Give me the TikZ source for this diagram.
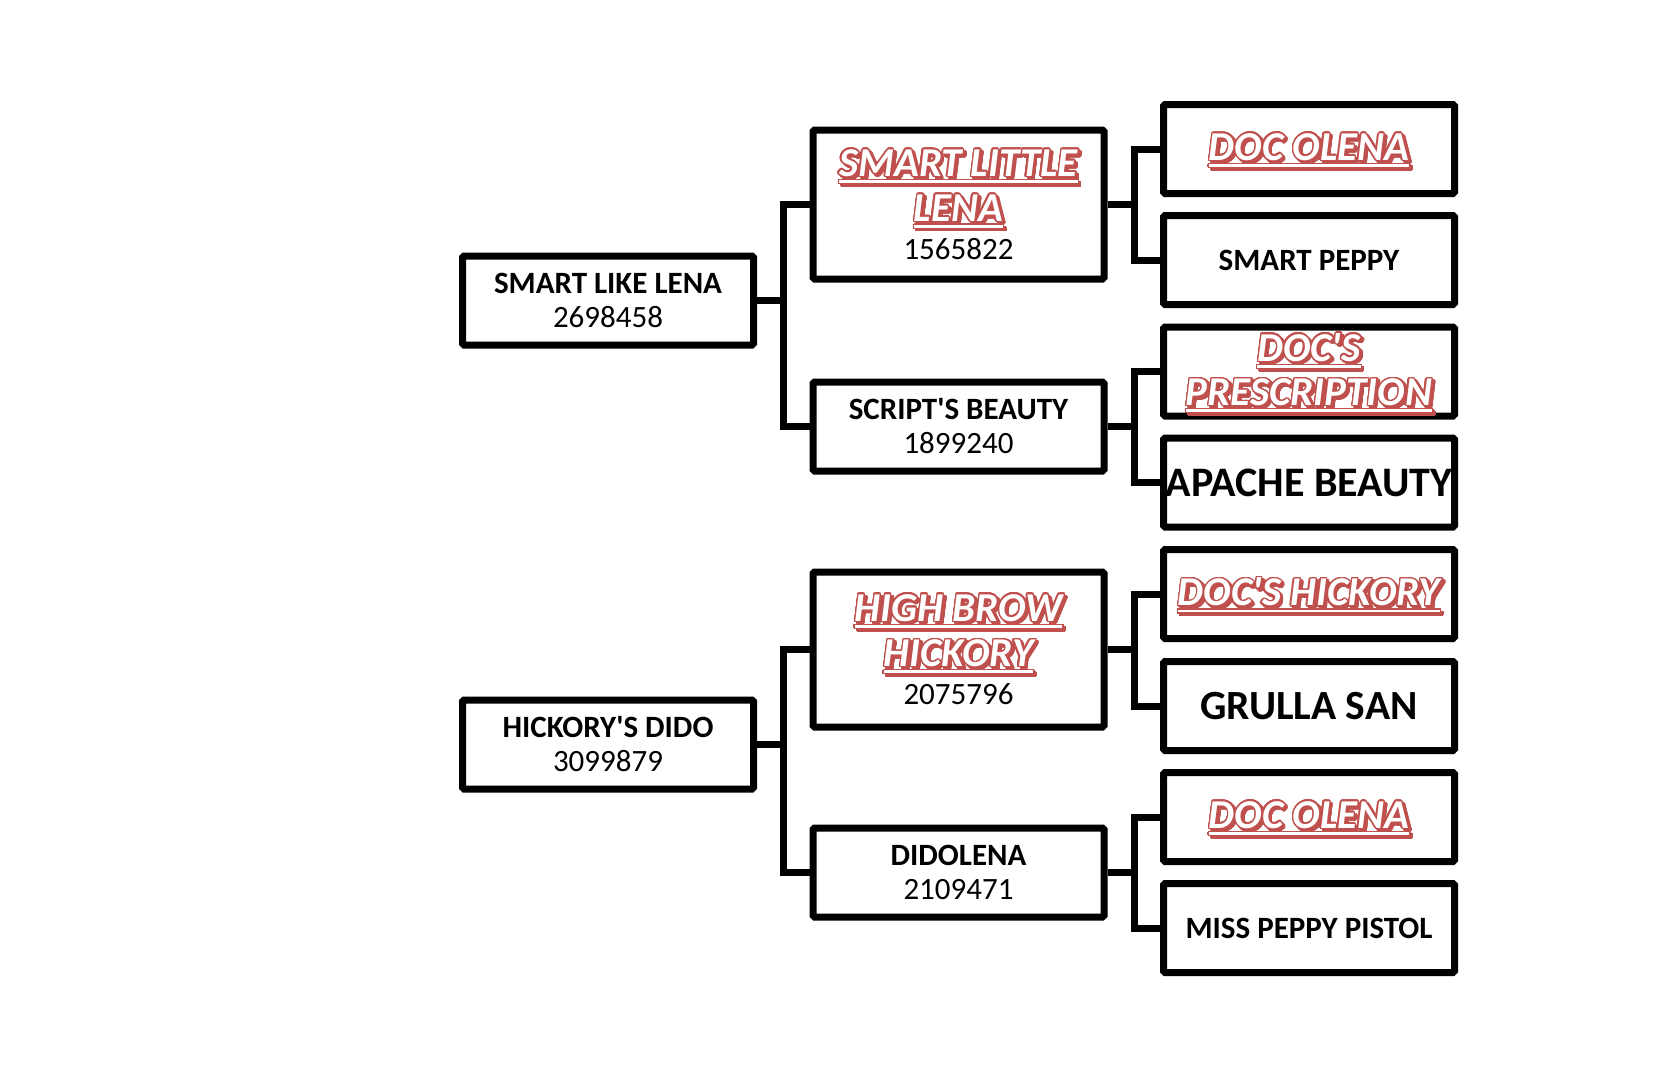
\documentclass[tikz,border=0pt]{standalone}
\usepackage{fontspec}
\setmainfont{Carlito}
\usepackage[copies]{contour}
\contourlength{1.4pt}
\contournumber{24}
\definecolor{redc}{RGB}{192,80,77}
\newcommand\ulbox[1]{\vtop{\hbox{#1}\kern3.5pt\hrule height 2.8pt}}
\newcommand\redline[1]{\leavevmode\rlap{\kern2.4pt\raisebox{-2.4pt}{\color{redc}\contour{redc}{\ulbox{#1}}}}{\color{white}\contour{redc}{\ulbox{#1}}}}
\newcommand\redf{\fontsize{41}{43}\selectfont\bfseries\itshape}
\newcommand\lowr[1]{\raisebox{-3pt}[\height][\depth]{#1}}
\newcommand\nmtxt[1]{{\bfseries #1}}
\newcommand\numtxt[1]{{#1}}
\tikzset{
  pbox/.style={draw=black, line width=7pt, fill=white, rounded corners=1.5pt, inner sep=0pt,
    align=center, font=\fontsize{31}{34}\selectfont, minimum width=291pt, minimum height=89pt},
  tallbox/.style={pbox, minimum height=152pt},
  wline/.style={line width=7pt, line join=miter}
}
\begin{document}
\begin{tikzpicture}[x=1pt,y=-1pt]
\useasboundingbox (0,0) rectangle (1668,1080);
% column 1
\node[pbox] (slen) at (608,300.5) {\nmtxt{SMART LIKE LENA}\\\numtxt{2698458}};
\node[pbox] (hd) at (608,744.5) {\nmtxt{HICKORY\textquotesingle S DIDO}\\\numtxt{3099879}};
% column 2
\node[tallbox, minimum height=149pt] (sll) at (958.5,204.5) {{\redf\redline{SMART LITTLE}}\\[7pt]{\redf\redline{LENA}}\\[4pt]\numtxt{1565822}};
\node[pbox] (sb) at (958.5,426.5) {\nmtxt{SCRIPT\textquotesingle S BEAUTY}\\\numtxt{1899240}};
\node[tallbox, minimum height=155pt] (hbh) at (958.5,649.5) {{\redf\redline{HIGH BROW}}\\[7pt]{\redf\redline{HICKORY}}\\[4pt]\numtxt{2075796}};
\node[pbox] (dl) at (958.5,872.5) {\nmtxt{DIDOLENA}\\\numtxt{2109471}};
% column 3
\node[pbox] (do1) at (1309,149) {\lowr{\redf\redline{DOC OLENA}}};
\node[pbox] (sp) at (1309,260) {\nmtxt{SMART PEPPY}};
\node[pbox] (dp) at (1309,371.5) {\lowr{\redf\redline{DOC\textquotesingle S}}\\[6pt]\lowr{\redf\redline{PRESCRIPTION}}};
\node[pbox] (ab) at (1309,482.5) {\fontsize{42}{44}\selectfont\bfseries APACHE BEAUTY};
\node[pbox] (dh) at (1309,594) {\lowr{\redf\redline{DOC\textquotesingle S HICKORY}}};
\node[pbox] (gs) at (1309,706) {\fontsize{41.5}{43}\selectfont\bfseries GRULLA SAN};
\node[pbox] (do2) at (1309,817) {\lowr{\redf\redline{DOC OLENA}}};
\node[pbox] (mpp) at (1309,928) {\nmtxt{MISS PEPPY PISTOL}};
% connectors
\coordinate (j1) at (783,300.5);
\coordinate (j2) at (783,744.5);
\coordinate (k1) at (1134,204.5);
\coordinate (k2) at (1134,426.5);
\coordinate (k3) at (1134,649.5);
\coordinate (k4) at (1134,872.5);
\draw[wline] (slen.east) -- (j1);
\draw[wline] (sll.west) -| (j1) |- (sb.west);
\draw[wline] (hd.east) -- (j2);
\draw[wline] (hbh.west) -| (j2) |- (dl.west);
\draw[wline] (sll.east) -- (k1);
\draw[wline] (do1.west) -| (k1) |- (sp.west);
\draw[wline] (sb.east) -- (k2);
\draw[wline] (dp.west) -| (k2) |- (ab.west);
\draw[wline] (hbh.east) -- (k3);
\draw[wline] (dh.west) -| (k3) |- (gs.west);
\draw[wline] (dl.east) -- (k4);
\draw[wline] (do2.west) -| (k4) |- (mpp.west);
\end{tikzpicture}
\end{document}
